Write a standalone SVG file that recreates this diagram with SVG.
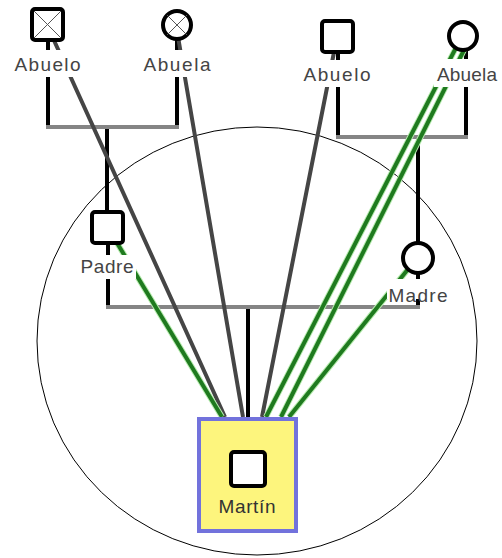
<svg xmlns="http://www.w3.org/2000/svg" width="502" height="558" viewBox="0 0 502 558">
<style>
.shape{fill:#fff;stroke:#000;stroke-width:4}
.x{stroke:#555;stroke-width:1;fill:none}
.lbl{font-family:"Liberation Sans",Arial,sans-serif;font-size:19px;fill:#444;text-anchor:middle}
.lb{fill:#fff}
.blk{stroke:#000;stroke-width:4;fill:none}
.gry{stroke:#858585;stroke-width:4;fill:none}
.drk{stroke:#454545;stroke-width:4;fill:none}
.halo{stroke:#b8ecb0;stroke-width:6;fill:none}
.grn{stroke:#1f7a1f;stroke-width:4;fill:none}
</style>
<rect width="502" height="558" fill="#fff"/>
<ellipse cx="257" cy="341" rx="220" ry="214" fill="none" stroke="#000" stroke-width="1"/>
<g id="connectors">
<path class="blk" d="M48 25V127 M177 25V127 M107 127V228 M108 228V307 M338 37V137 M466 37V137 M418 137V258 M418 258V307 M248 307V417"/>
<path class="gry" d="M46 127H179 M106 307H420 M336 137H468"/>
<path class="drk" d="M47 25L225 417 M176 25L243 417 M337 37L262 417"/>
<path class="halo" d="M108 228L222 417 M462 36L266 417 M471 36L281 417 M417 258L289 417"/>
<path class="grn" d="M108 228L222 417 M462 36L266 417 M471 36L281 417 M417 258L289 417"/>
</g>
<g id="abuelo-paterno">
<rect class="shape" x="32" y="9" width="31" height="31" rx="3"/>
<path class="x" d="M34 11L61 38M61 11L34 38"/>
<rect class="lb" x="13" y="50" width="69" height="27"/>
<text class="lbl" x="47.5" y="71" textLength="66" lengthAdjust="spacing">Abuelo</text>
</g>
<g id="abuela-paterna">
<circle class="shape" cx="177" cy="25" r="14"/>
<path class="x" d="M167 15L187 35M187 15L167 35"/>
<rect class="lb" x="142" y="50" width="70" height="27"/>
<text class="lbl" x="177" y="71" textLength="67" lengthAdjust="spacing">Abuela</text>
</g>
<g id="abuelo-materno">
<rect class="shape" x="322" y="21" width="31" height="31" rx="3"/>
<rect class="lb" x="302" y="60" width="70" height="27"/>
<text class="lbl" x="337" y="81" textLength="67" lengthAdjust="spacing">Abuelo</text>
</g>
<g id="abuela-materna">
<circle class="shape" cx="463" cy="36" r="14"/>
<rect class="lb" x="434" y="59" width="68" height="28"/>
<text class="lbl" x="467" y="81" textLength="60" lengthAdjust="spacing">Abuela</text>
</g>
<g id="padre">
<rect class="shape" x="92" y="212" width="31" height="31" rx="3"/>
<rect class="lb" x="79" y="255" width="57" height="24"/>
<text class="lbl" x="107" y="273" textLength="53" lengthAdjust="spacing">Padre</text>
</g>
<g id="madre">
<circle class="shape" cx="418" cy="258" r="15"/>
<rect class="lb" x="387" y="279" width="63" height="20"/>
<text class="lbl" x="418" y="302" textLength="59" lengthAdjust="spacing">Madre</text>
</g>
<g id="martin">
<rect x="199" y="419" width="97" height="112" fill="#fdf57d" stroke="#7272dc" stroke-width="4"/>
<rect class="shape" x="231" y="452" width="34" height="34" rx="3"/>
<text class="lbl" x="247" y="513" textLength="57" lengthAdjust="spacing" style="fill:#333">Martín</text>
</g>
</svg>
